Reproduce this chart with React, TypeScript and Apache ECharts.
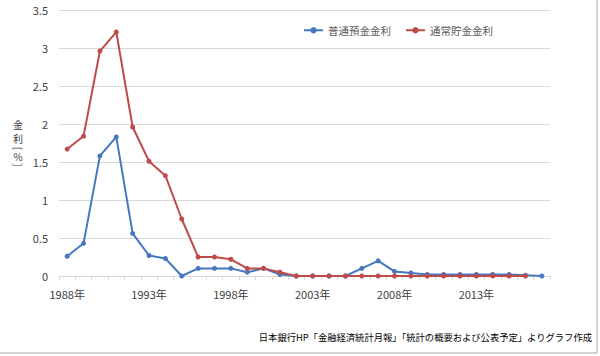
import React, { useEffect, useRef } from "react";
import * as echarts from "echarts";

const years: string[] = [
  "1988年", "1989年", "1990年", "1991年", "1992年", "1993年", "1994年", "1995年", "1996年", "1997年",
  "1998年", "1999年", "2000年", "2001年", "2002年", "2003年", "2004年", "2005年", "2006年", "2007年",
  "2008年", "2009年", "2010年", "2011年", "2012年", "2013年", "2014年", "2015年", "2016年", "2017年",
];

const futsuYokin: (number | null)[] = [
  0.26, 0.43, 1.58, 1.83, 0.56, 0.27, 0.23, 0.0, 0.1, 0.1,
  0.1, 0.05, 0.1, 0.02, 0.0, 0.0, 0.0, 0.0, 0.1, 0.2,
  0.06, 0.04, 0.02, 0.02, 0.02, 0.02, 0.02, 0.02, 0.01, 0.0,
];

const tsujoChokin: (number | null)[] = [
  1.67, 1.84, 2.96, 3.21, 1.96, 1.51, 1.32, 0.75, 0.25, 0.25,
  0.22, 0.1, 0.1, 0.05, 0.0, 0.0, 0.0, 0.0, 0.0, 0.0,
  0.0, 0.0, 0.0, 0.0, 0.0, 0.0, 0.0, 0.0, 0.0, null,
];

const seriesNames = ["普通預金金利", "通常貯金金利"];
const yAxisTitleChars = ["金", "利", "[", "%", "]"];
const sourceNote = "日本銀行HP「金融経済統計月報」「統計の概要および公表予定」よりグラフ作成";

const FONT = "'Noto Sans CJK JP', 'Noto Sans', sans-serif";

export default function App() {
  const ref = useRef<HTMLDivElement>(null);
  useEffect(() => {
    if (!ref.current) return;
    const chart = echarts.init(ref.current, null, { renderer: "svg" });
    const titleYs = [124, 138.5, 148.5, 156.5, 165];
    const titleGraphics = yAxisTitleChars.map((ch, i) => ({
      type: "text",
      x: 18,
      y: titleYs[i],
      rotation: ch === "[" || ch === "]" ? -Math.PI / 2 : 0,
      style: {
        text: ch,
        fill: "#404040",
        font: `10px ${FONT}`,
        lineHeight: 10,
        align: "center",
        verticalAlign: "middle",
      },
    }));
    chart.setOption({
      animation: false,
      backgroundColor: "#ffffff",
      textStyle: { fontFamily: FONT },
      grid: { left: 59, right: 50, top: 10, bottom: 80 },
      legend: {
        data: seriesNames,
        left: 298,
        top: 20,
        itemWidth: 19,
        itemHeight: 8,
        itemGap: 14,
        textStyle: { color: "#595959", fontSize: 10.5, fontFamily: FONT },
      },
      xAxis: {
        type: "category",
        data: years,
        boundaryGap: true,
        axisLine: { lineStyle: { color: "#d9d9d9" } },
        axisTick: { show: true, interval: 0, length: 4, lineStyle: { color: "#d9d9d9" } },
        axisLabel: { interval: 4, color: "#404040", fontSize: 11, margin: 12, fontFamily: FONT },
      },
      yAxis: {
        type: "value",
        min: 0,
        max: 3.5,
        interval: 0.5,
        axisLine: { show: false },
        axisTick: { show: false },
        axisLabel: { color: "#404040", fontSize: 11, margin: 11, fontFamily: FONT },
        splitLine: { lineStyle: { color: "#d9d9d9" } },
      },
      series: [
        {
          name: seriesNames[0],
          type: "line",
          data: futsuYokin,
          symbol: "circle",
          symbolSize: 5,
          color: "#4677bf",
          lineStyle: { width: 2, color: "#4677bf" },
          itemStyle: { color: "#4677bf" },
        },
        {
          name: seriesNames[1],
          type: "line",
          data: tsujoChokin,
          symbol: "circle",
          symbolSize: 5,
          color: "#be4b48",
          lineStyle: { width: 2, color: "#be4b48" },
          itemStyle: { color: "#be4b48" },
        },
      ],
      graphic: [
        ...titleGraphics,
        {
          type: "text",
          x: 592,
          y: 337,
          style: {
            text: sourceNote,
            fill: "#000000",
            font: `9.3px ${FONT}`,
            align: "right",
            verticalAlign: "middle",
          },
        },
        {
          type: "line",
          shape: { x1: 597, y1: 0, x2: 597, y2: 353 },
          style: { stroke: "#a6a6a6", lineWidth: 1 },
        },
        {
          type: "line",
          shape: { x1: 0, y1: 353, x2: 597, y2: 353 },
          style: { stroke: "#a6a6a6", lineWidth: 1 },
        },
      ],
    });
    return () => chart.dispose();
  }, []);
  return <div ref={ref} style={{ width: 600, height: 356, position: "absolute", left: 0, top: 0 }} />;
}
